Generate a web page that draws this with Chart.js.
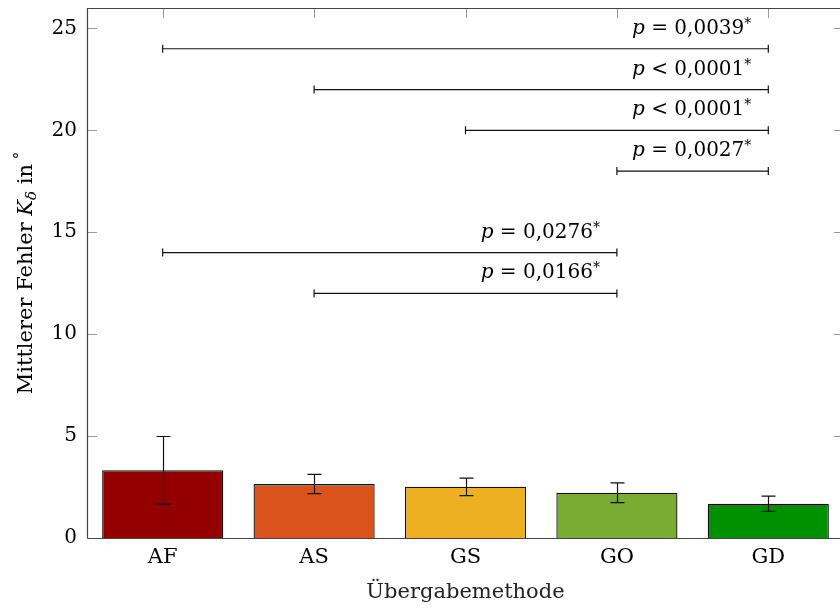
<!DOCTYPE html>
<html>
<head>
<meta charset="utf-8">
<script src="https://cdn.jsdelivr.net/npm/chart.js@4.4.1/dist/chart.umd.min.js"></script>
<style>
	html, body { margin: 0; padding: 0; background: #fff; overflow: hidden; }
	#wrap { width: 850px; height: 609px; }
</style>
</head>
<body>
<div id="wrap"><canvas id="errChart"></canvas></div>
<script>
var methods = ['AF', 'AS', 'GS', 'GO', 'GD'];
var meanErr = [3.32, 2.65, 2.52, 2.22, 1.68];
var errLow = [1.66, 2.18, 2.08, 1.74, 1.31];
var errHigh = [4.98, 3.12, 2.94, 2.70, 2.05];
var barColors = ['#940000', '#d9531c', '#ecb022', '#7aab32', '#009000'];

// Signifikanz-Klammern
var sigFrom = ['AF', 'AS', 'GS', 'GO', 'AF', 'AS'];
var sigTo = ['GD', 'GD', 'GD', 'GD', 'GO', 'GO'];
var sigLevel = [24, 22, 20, 18, 14, 12];
var sigRel = ['=', '<', '<', '=', '=', '='];
var sigVal = ['0,0039', '0,0001', '0,0001', '0,0027', '0,0276', '0,0166'];

var yTicks = [0, 5, 10, 15, 20, 25];
var FONT = "'DejaVu Serif', 'Liberation Serif', serif";

var _chart;

function getChartData() {
	var _datasets = [];

	_datasets.push({
		type: 'bar',
		label: 'Mittlerer Fehler',
		data: meanErr,
		backgroundColor: barColors,
		borderColor: '#111',
		borderWidth: 1.3,
		barPercentage: 0.8,
		categoryPercentage: 1,
		order: 2
	});

	sigFrom.forEach(function(from, i) {
		_datasets.push({
			type: 'line',
			label: 'sig' + i,
			data: [{x: from, y: sigLevel[i]}, {x: sigTo[i], y: sigLevel[i]}],
			borderColor: '#111',
			borderWidth: 1.2,
			pointStyle: 'line',
			rotation: 90,
			pointRadius: 4,
			pointBorderColor: '#111',
			pointBorderWidth: 1.2,
			fill: false,
			order: 1
		});
	});

	return { labels: methods, datasets: _datasets };
}

// Fehlerbalken, Innen-Ticks, Rahmen, Beschriftungen
var extraPlugin = {
	id: 'extra',
	afterDatasetsDraw: function(chart) {
		var ctx = chart.ctx;
		var x = chart.scales.x;
		var y = chart.scales.y;
		var area = chart.chartArea;

		ctx.save();
		// Fehlerbalken
		ctx.strokeStyle = '#111';
		ctx.lineWidth = 1.2;
		methods.forEach(function(m, i) {
			var px = Math.round(x.getPixelForValue(i)) + 0.5;
			var yl = y.getPixelForValue(errLow[i]);
			var yh = y.getPixelForValue(errHigh[i]);
			ctx.beginPath();
			ctx.moveTo(px, yl); ctx.lineTo(px, yh);
			ctx.moveTo(px - 7, yl); ctx.lineTo(px + 7, yl);
			ctx.moveTo(px - 7, yh); ctx.lineTo(px + 7, yh);
			ctx.stroke();
		});

		// Innen-Ticks
		ctx.strokeStyle = '#999';
		ctx.lineWidth = 1;
		ctx.beginPath();
		yTicks.forEach(function(v) {
			if (v === 0) return;
			var py = Math.round(y.getPixelForValue(v)) + 0.5;
			ctx.moveTo(area.left, py); ctx.lineTo(area.left + 10, py);
			ctx.moveTo(area.right, py); ctx.lineTo(area.right - 10, py);
		});
		methods.forEach(function(m, i) {
			var px = Math.round(x.getPixelForValue(i)) + 0.5;
			ctx.moveTo(px, area.top); ctx.lineTo(px, area.top + 10);
		});
		ctx.stroke();

		// Rahmen
		ctx.strokeStyle = '#444';
		ctx.lineWidth = 1.2;
		ctx.beginPath();
		ctx.moveTo(area.left + 0.5, area.bottom + 0.5);
		ctx.lineTo(area.left + 0.5, area.top + 0.5);
		ctx.lineTo(area.right + 0.5, area.top + 0.5);
		ctx.lineTo(area.right + 0.5, area.bottom + 0.5);
		ctx.lineTo(area.left + 0.5, area.bottom + 0.5);
		ctx.stroke();

		// p-Werte
		ctx.fillStyle = '#000';
		ctx.textBaseline = 'alphabetic';
		sigFrom.forEach(function(from, i) {
			var xr = x.getPixelForValue(methods.indexOf(sigTo[i])) - 17;
			var yb = y.getPixelForValue(sigLevel[i]) - 15;
			var parts = [
				{t: 'p', f: 'italic 20px ' + FONT, dy: 0},
				{t: ' ' + sigRel[i] + ' ' + sigVal[i], f: '20px ' + FONT, dy: 0},
				{t: '*', f: '14px ' + FONT, dy: -6}
			];
			var w = 0;
			parts.forEach(function(p) { ctx.font = p.f; p.w = ctx.measureText(p.t).width; w += p.w; });
			var cx = xr - w;
			parts.forEach(function(p) {
				ctx.font = p.f;
				ctx.fillText(p.t, cx, yb + p.dy);
				cx += p.w;
			});
		});

		// y-Achsentitel
		ctx.translate(32, (area.top + area.bottom) / 2);
		ctx.rotate(-Math.PI / 2);
		var tparts = [
			{t: 'Mittlerer Fehler ', f: '21px ' + FONT, dy: 0},
			{t: 'K', f: 'italic 21px ' + FONT, dy: 0},
			{t: 'δ', f: 'italic 15px ' + FONT, dy: 4},
			{t: ' in', f: '21px ' + FONT, dy: 0},
			{t: ' °', f: '15px ' + FONT, dy: -8}
		];
		var tw = 0;
		tparts.forEach(function(p) { ctx.font = p.f; p.w = ctx.measureText(p.t).width; tw += p.w; });
		var tx = -tw / 2;
		tparts.forEach(function(p) {
			ctx.font = p.f;
			ctx.fillText(p.t, tx, p.dy);
			tx += p.w;
		});
		ctx.restore();
	}
};

function getChartOption() {
	var options = {
		data: getChartData(),
		plugins: [extraPlugin],
		options: {
			responsive: true,
			maintainAspectRatio: false,
			animation: false,
			layout: { padding: { top: 8, right: 6, left: 0, bottom: 0 } },
			plugins: {
				legend: { display: false },
				title: { display: false },
				tooltip: { enabled: false }
			},
			scales: {
				x: {
					type: 'category',
					offset: true,
					grid: { display: false, drawTicks: false },
					border: { display: false },
					ticks: {
						color: '#000',
						padding: 7,
						font: { family: FONT, size: 21 }
					},
					title: {
						display: true,
						text: 'Übergabemethode',
						color: '#222',
						padding: { top: 0, bottom: 4 },
						font: { family: FONT, size: 21 }
					},
					afterFit: function(scale) {
						scale.height = 71;
						scale.paddingLeft = 0;
						scale.paddingRight = 0;
					}
				},
				y: {
					min: 0,
					max: 26,
					afterBuildTicks: function(scale) {
						scale.ticks = yTicks.map(function(v) { return { value: v }; });
					},
					grid: { display: false, drawTicks: false },
					border: { display: false },
					ticks: {
						color: '#000',
						padding: 10,
						font: { family: FONT, size: 20 }
					},
					afterFit: function(scale) {
						scale.width = 87;
						scale.paddingTop = 0;
						scale.paddingBottom = 0;
					}
				}
			}
		}
	};
	return options;
}

_chart = new Chart(document.getElementById('errChart'), getChartOption());
</script>
</body>
</html>
